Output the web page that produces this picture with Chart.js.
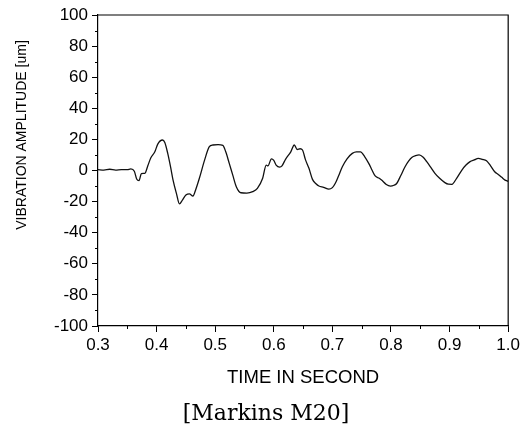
<!DOCTYPE html>
<html>
<head>
<meta charset="utf-8">
<script src="https://cdn.jsdelivr.net/npm/chart.js@4/dist/chart.umd.min.js"></script>
<style>
html,body{margin:0;padding:0;background:#fff;}
canvas{display:block;}
</style>
</head>
<body>
<canvas id="c" width="523" height="428"></canvas>
<script>
const timeSec = [0.300,0.310,0.320,0.330,0.340,0.350,0.356,0.362,0.366,0.370,0.374,0.380,0.385,0.390,0.397,0.402,0.410,0.414,0.419,0.424,0.428,0.434,0.439,0.444,0.450,0.456,0.462,0.467,0.473,0.482,0.490,0.496,0.505,0.513,0.518,0.524,0.530,0.536,0.544,0.554,0.564,0.572,0.581,0.587,0.590,0.596,0.600,0.604,0.610,0.614,0.620,0.629,0.635,0.640,0.645,0.649,0.654,0.660,0.666,0.672,0.677,0.685,0.694,0.700,0.705,0.711,0.717,0.725,0.734,0.741,0.748,0.755,0.762,0.768,0.773,0.780,0.785,0.792,0.799,0.805,0.810,0.817,0.824,0.830,0.836,0.842,0.848,0.855,0.861,0.868,0.875,0.883,0.892,0.898,0.904,0.912,0.921,0.928,0.935,0.942,0.949,0.956,0.963,0.970,0.977,0.983,0.989,0.994,1.000];
const amplitude = [0.5,0.3,0.8,0.2,0.6,0.5,1.0,-0.5,-5.5,-6.5,-2,-1.8,3,8,12,17,19.6,18,11,2,-6,-15,-21.5,-19,-15.8,-15,-16.4,-12,-5,6.8,15.3,16.4,16.6,16.2,12,4.6,-3,-10.4,-14.3,-14.5,-13.6,-11.5,-5,3.5,3.0,7.5,6.5,3.5,2.2,3.0,7.2,12,16.4,13.5,14,13.2,7,1.4,-5.7,-8.5,-10,-10.8,-12,-11,-8.2,-3,2.4,7.5,11,12,12,9,4.6,0,-3.5,-5,-6.5,-9,-10,-9.5,-8.2,-3,2.4,6,8.5,9.5,10,8.5,5.7,2,-1.8,-5,-7.8,-8.8,-8.9,-5,0.3,3.5,5.7,6.8,7.8,7.2,6.3,3,-0.8,-2.5,-4.4,-6,-7];
const xTicks = [0.3,0.4,0.5,0.6,0.7,0.8,0.9,1.0];
const yTicks = [-100,-80,-60,-40,-20,0,20,40,60,80,100];
const xTitle = 'TIME IN SECOND';
const yTitle = 'VIBRATION AMPLITUDE [um]';
const caption = '[Markins M20]';

const points = timeSec.map((t,i)=>({x:t,y:amplitude[i]}));

const extras = {
  id:'extras',
  afterDraw(chart){
    const ctx = chart.ctx, a = chart.chartArea;
    const xs = chart.scales.x, ys = chart.scales.y;
    ctx.save();
    ctx.strokeStyle = '#000';
    ctx.lineWidth = 1.2;
    ctx.beginPath();
    ctx.moveTo(a.left, a.top); ctx.lineTo(a.right, a.top); ctx.lineTo(a.right, a.bottom);
    ctx.stroke();
    ctx.lineWidth = 1;
    ctx.beginPath();
    for (let i=0;i<xTicks.length-1;i++){
      const px = Math.round(xs.getPixelForValue((xTicks[i]+xTicks[i+1])/2))+0.5;
      ctx.moveTo(px, a.bottom); ctx.lineTo(px, a.bottom+3);
    }
    for (let i=0;i<yTicks.length-1;i++){
      const py = Math.round(ys.getPixelForValue((yTicks[i]+yTicks[i+1])/2))+0.5;
      ctx.moveTo(a.left, py); ctx.lineTo(a.left-3, py);
    }
    ctx.stroke();
    ctx.fillStyle = '#000';
    ctx.font = '14px "Liberation Sans", Arial, sans-serif';
    ctx.textAlign = 'center';
    ctx.textBaseline = 'middle';
    ctx.translate(22, 135);
    ctx.rotate(-Math.PI/2);
    ctx.fillText(yTitle, 0, 0);
    ctx.restore();
    ctx.save();
    ctx.fillStyle = '#000';
    ctx.font = '22px "DejaVu Serif", serif';
    ctx.textAlign = 'center';
    ctx.textBaseline = 'middle';
    ctx.fillText(caption, 266, 414);
    ctx.restore();
  }
};

new Chart(document.getElementById('c'), {
  type:'line',
  data:{datasets:[{data:points,borderColor:'#111',borderWidth:1.3,pointRadius:0,fill:false,cubicInterpolationMode:'monotone'}]},
  options:{
    responsive:false,
    animation:false,
    layout:{padding:{left:0,right:13,top:15,bottom:0}},
    plugins:{legend:{display:false},tooltip:{enabled:false}},
    scales:{
      x:{
        type:'linear',min:0.3,max:1.0,
        afterBuildTicks(s){ s.ticks = xTicks.map(v=>({value:v})); },
        afterFit(s){ s.height = 102; },
        ticks:{color:'#000',font:{family:'"Liberation Sans", Arial, sans-serif',size:17},padding:3,maxRotation:0,autoSkip:false,callback:v=>Number(v).toFixed(1)},
        grid:{drawOnChartArea:false,tickLength:6,color:'#000',tickColor:'#000'},
        border:{color:'#000',width:1.2},
        title:{display:true,text:xTitle,color:'#000',font:{family:'"Liberation Sans", Arial, sans-serif',size:18.5},padding:{top:0,bottom:39}}
      },
      y:{
        min:-100,max:100,
        afterBuildTicks(s){ s.ticks = yTicks.map(v=>({value:v})); },
        afterFit(s){ s.width = 98; },
        ticks:{color:'#000',font:{family:'"Liberation Sans", Arial, sans-serif',size:17},padding:4,autoSkip:false},
        grid:{drawOnChartArea:false,tickLength:6,color:'#000',tickColor:'#000'},
        border:{color:'#000',width:1.2}
      }
    }
  },
  plugins:[extras]
});
</script>
</body>
</html>
